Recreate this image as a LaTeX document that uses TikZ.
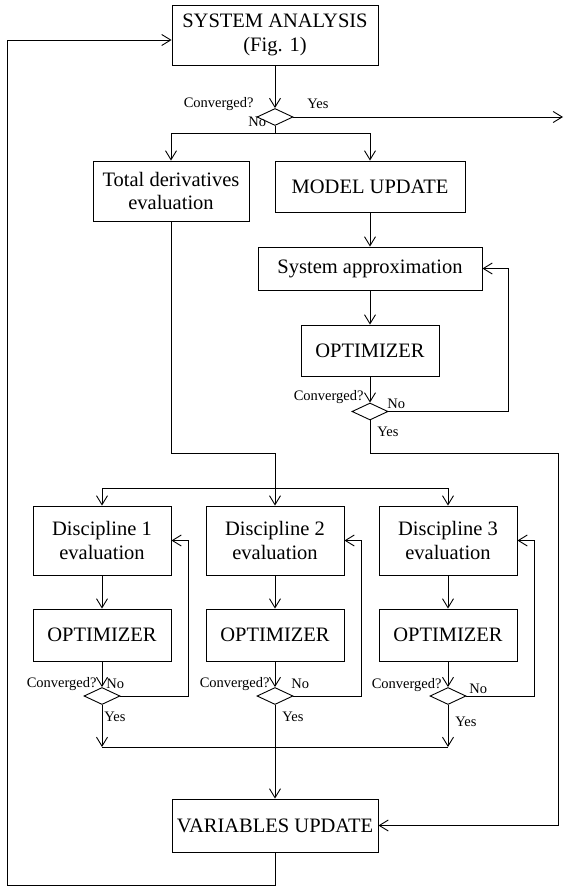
\documentclass[tikz,border=0pt]{standalone}
\usepackage{fontspec}
\setmainfont{Liberation Serif}
\usetikzlibrary{shapes.geometric,arrows.meta}
\newcommand{\bxfont}{\fontsize{20.5}{23.5}\selectfont}
\newcommand{\lbfont}{\fontsize{14.5}{16}\selectfont}
\tikzset{
  procbox/.style={draw,rectangle,align=center,inner sep=0pt,font=\bxfont},
  testd/.style={draw,diamond,inner sep=0pt,minimum width=36pt,minimum height=17pt},
  lbl/.style={inner sep=0pt,font=\lbfont},
  flow/.style={-{Straight Barb[length=9pt,width=11pt]}}
}

\begin{document}
\begin{tikzpicture}[x=1pt,y=-1pt,line width=0.9pt]
  \useasboundingbox (0,0) rectangle (564,886);

  \node[procbox,minimum width=206pt,minimum height=60pt] (sa) at (275,35) {SYSTEM ANALYSIS\\(Fig. 1)};
  \node[testd] (cv0) at (275,117) {};
  \node[lbl,anchor=east] at (254,104) {Converged?};
  \node[lbl,anchor=west] at (307,104) {Yes};
  \node[lbl,anchor=west] at (248,122) {No};
  \coordinate (yesout) at (563,117);
  \draw[flow] (sa) -- (cv0);
  \draw[flow] (cv0) -- (yesout);

  \node[procbox,minimum width=156pt,minimum height=60pt] (td) at (171,191) {Total derivatives\\evaluation};
  \node[procbox,minimum width=190pt,minimum height=51pt] (mu) at (370,186.5) {MODEL UPDATE};
  \coordinate (sp0) at (275,133);
  \draw (cv0) -- (sp0);
  \draw[flow] (sp0) -| (td);
  \draw[flow] (sp0) -| (mu);

  \node[procbox,minimum width=224pt,minimum height=43pt] (sap) at (370,268.5) {System approximation};
  \node[procbox,minimum width=138pt,minimum height=51pt] (opt0) at (370,350.5) {OPTIMIZER};
  \node[testd] (cv1) at (370,411.5) {};
  \node[lbl,anchor=east] at (364,397) {Converged?};
  \node[lbl,anchor=west] at (387,404) {No};
  \node[lbl,anchor=west] at (377,432) {Yes};
  \draw[flow] (mu) -- (sap);
  \draw[flow] (sap) -- (opt0);
  \draw[flow] (opt0) -- (cv1);
  \draw[flow] (cv1.east) -- ++(120,0) |- (sap.east);

  \coordinate (tdj) at (275,453);
  \coordinate (sp1) at (275,488);
  \draw (td) |- (tdj) -- (sp1);

  \node[procbox,minimum width=138pt,minimum height=69pt] (dis1) at (102,540.5) {Discipline 1\\evaluation};
  \node[procbox,minimum width=138pt,minimum height=69pt] (dis2) at (275,540.5) {Discipline 2\\evaluation};
  \node[procbox,minimum width=138pt,minimum height=69pt] (dis3) at (448,540.5) {Discipline 3\\evaluation};
  \draw[flow] (sp1) -| (dis1);
  \draw[flow] (sp1) -- (dis2);
  \draw[flow] (sp1) -| (dis3);

  \node[procbox,minimum width=138pt,minimum height=52pt] (opt1) at (102,635) {OPTIMIZER};
  \node[procbox,minimum width=138pt,minimum height=52pt] (opt2) at (275,635) {OPTIMIZER};
  \node[procbox,minimum width=138pt,minimum height=52pt] (opt3) at (448,635) {OPTIMIZER};
  \draw[flow] (dis1) -- (opt1);
  \draw[flow] (dis2) -- (opt2);
  \draw[flow] (dis3) -- (opt3);

  \node[testd] (cv2) at (102,696) {};
  \node[testd] (cv3) at (275,696) {};
  \node[testd] (cv4) at (448,696) {};
  \draw[flow] (opt1) -- (cv2);
  \draw[flow] (opt2) -- (cv3);
  \draw[flow] (opt3) -- (cv4);
  \node[lbl,anchor=east] at (97,684) {Converged?};
  \node[lbl,anchor=west] at (106,684) {No};
  \node[lbl,anchor=west] at (104,717) {Yes};
  \node[lbl,anchor=east] at (270,684) {Converged?};
  \node[lbl,anchor=west] at (291,684) {No};
  \node[lbl,anchor=west] at (282,717) {Yes};
  \node[lbl,anchor=east] at (442,685) {Converged?};
  \node[lbl,anchor=west] at (469,689) {No};
  \node[lbl,anchor=west] at (455,722) {Yes};
  \draw[flow] (cv2.east) -- ++(68,0) |- (dis1.east);
  \draw[flow] (cv3.east) -- ++(68,0) |- (dis2.east);
  \draw[flow] (cv4.east) -- ++(68,0) |- (dis3.east);

  \node[procbox,minimum width=206pt,minimum height=53pt] (vu) at (275,825.5) {VARIABLES UPDATE};
  \coordinate (m1) at (102,747);
  \coordinate (m3) at (448,747);
  \draw[flow] (cv2) -- (m1);
  \draw[flow] (cv4) -- (m3);
  \draw (m1) -- (m3);
  \draw[flow] (cv3) -- (vu);

  \coordinate (rt) at (558,453);
  \draw[flow] (cv1) |- (rt) |- (vu.east);
  \coordinate (bl) at (7,885);
  \draw[flow] (vu) |- (bl) |- ([yshift=-5pt]sa.west);
\end{tikzpicture}
\end{document}
